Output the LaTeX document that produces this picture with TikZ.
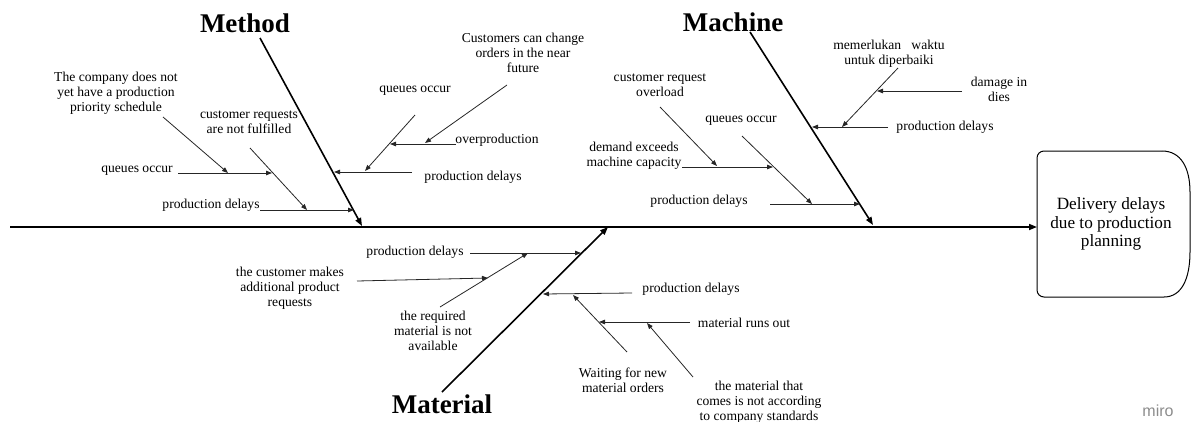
\documentclass[tikz,border=0pt]{standalone}
\usepackage{fontspec}
\setmainfont{Liberation Serif}
\newfontfamily\logofont{Liberation Sans}
\usetikzlibrary{arrows.meta}
\begin{document}
\begin{tikzpicture}[x=1pt,y=-1pt,
  lbl/.style={font=\fontsize{13.6}{14.8}\selectfont, align=center, inner sep=0pt},
  cat/.style={font=\fontsize{27}{30}\selectfont\bfseries, inner sep=0pt},
  bone/.style={line width=1.6pt, -{Triangle[length=8pt,width=6pt]}},
  twig/.style={line width=0.8pt, draw=black!85, -{Triangle[length=6pt,width=4.5pt]}},
]
\useasboundingbox (0,0) rectangle (1192,421);

% ---------- effect box ----------
\node[font=\fontsize{17.2}{18.6}\selectfont, align=center, inner sep=0pt] (effect) at (1111,224)
  {Delivery delays\\due to production\\planning};
\coordinate (boxL) at (1037,224);
\draw[line width=1pt, rounded corners=7pt] (1164,297) -- (1037,297) -- (1037,151) -- (1162,151);
\draw[line width=1pt] (1162,151) .. controls (1181,151) and (1190,168) .. (1190,192)
  -- (1190,252) .. controls (1190,278) and (1182,297) .. (1164,297);

% ---------- spine ----------
\coordinate (tail) at (10,227);
\draw[bone] (tail) -- (tail -| boxL);

% ---------- category bones ----------
\node[cat] (method) at (245,23) {Method};
\node[cat] (machine) at (733,22) {Machine};
\node[cat] (material) at (442,404) {Material};

\coordinate (mA) at (260,38);  \coordinate (mB) at (362,226);
\coordinate (cA) at (750,32);  \coordinate (cB) at (873,225);
\coordinate (tA) at (442,392); \coordinate (tB) at (608,227);
\draw[bone] (mA) -- (mB);
\draw[bone] (cA) -- (cB);
\draw[bone] (tA) -- (tB);

% ---------- Method causes ----------
\node[lbl] (m1) at (116,93) {The company does not\\yet have a production\\priority schedule};
\node[lbl] (m2) at (137,171) {queues occur};
\node[lbl] (m3) at (249,122) {customer requests\\are not fulfilled};
\node[lbl] (m4) at (211,205) {production delays};
\node[lbl] (m5) at (473,177) {production delays};
\node[lbl] (m6) at (415,91) {queues occur};
\node[lbl] (m7) at (497,140) {overproduction};
\node[lbl] (m8) at (523,53) {Customers can change\\orders in the near\\future};

\coordinate (m1s) at (163,117); \coordinate (m1e) at (228,173);
\coordinate (m2s) at (178,173); \coordinate (m2e) at (272,173);
\coordinate (m3s) at (250,148); \coordinate (m3e) at (307,210);
\coordinate (m4s) at (260,210); \coordinate (m4e) at (354,210);
\coordinate (m5s) at (412,172); \coordinate (m5e) at (334,172);
\coordinate (m6s) at (415,115); \coordinate (m6e) at (365,171);
\coordinate (m7s) at (456,144); \coordinate (m7e) at (390,144);
\coordinate (m8s) at (507,85);  \coordinate (m8e) at (425,143);
\foreach \i in {1,...,8} \draw[twig] (m\i s) -- (m\i e);

% ---------- Machine causes ----------
\node[lbl] (c1) at (660,85) {customer request\\overload};
\node[lbl] (c2) at (634,156) {demand exceeds\\machine capacity};
\node[lbl] (c3) at (741,121) {queues occur};
\node[lbl] (c4) at (699,201) {production delays};
\node[lbl] (c5) at (889,54) {memerlukan\ \ \ waktu\\untuk diperbaiki};
\node[lbl] (c6) at (999,89) {damage in\\dies};
\node[lbl] (c7) at (945,127) {production delays};

\coordinate (c1s) at (660,107); \coordinate (c1e) at (717,166);
\coordinate (c2s) at (682,167); \coordinate (c2e) at (773,167);
\coordinate (c3s) at (742,136); \coordinate (c3e) at (812,204);
\coordinate (c4s) at (770,204); \coordinate (c4e) at (860,204);
\coordinate (c5s) at (898,68);  \coordinate (c5e) at (842,127);
\coordinate (c6s) at (962,91);  \coordinate (c6e) at (877,91);
\coordinate (c7s) at (888,127); \coordinate (c7e) at (812,127);
\foreach \i in {1,...,7} \draw[twig] (c\i s) -- (c\i e);

% ---------- Material causes ----------
\node[lbl] (t1) at (415,252) {production delays};
\node[lbl] (t2) at (290,288) {the customer makes\\additional product\\requests};
\node[lbl] (t3) at (433,331) {the required\\material is not\\available};
\node[lbl] (t4) at (691,289) {production delays};
\node[lbl] (t5) at (744,323) {material runs out};
\node[lbl] (t6) at (623,380) {Waiting for new\\material orders};
\node[lbl] (t7) at (759,402) {the material that\\comes is not according\\to company standards};

\coordinate (t1s) at (470,253); \coordinate (t1e) at (581,253);
\coordinate (t2s) at (357,281); \coordinate (t2e) at (488,278);
\coordinate (t3s) at (440,307); \coordinate (t3e) at (528,253);
\coordinate (t4s) at (632,293); \coordinate (t4e) at (543,294);
\coordinate (t5s) at (690,322); \coordinate (t5e) at (599,322);
\coordinate (t6s) at (627,352); \coordinate (t6e) at (573,295);
\coordinate (t7s) at (693,377); \coordinate (t7e) at (647,323);
\foreach \i in {1,...,7} \draw[twig] (t\i s) -- (t\i e);

% ---------- logo ----------
\node[font=\logofont\fontsize{16}{18}\selectfont, text=black!45, inner sep=0pt] (logo) at (1158,411) {miro};
\end{tikzpicture}
\end{document}
